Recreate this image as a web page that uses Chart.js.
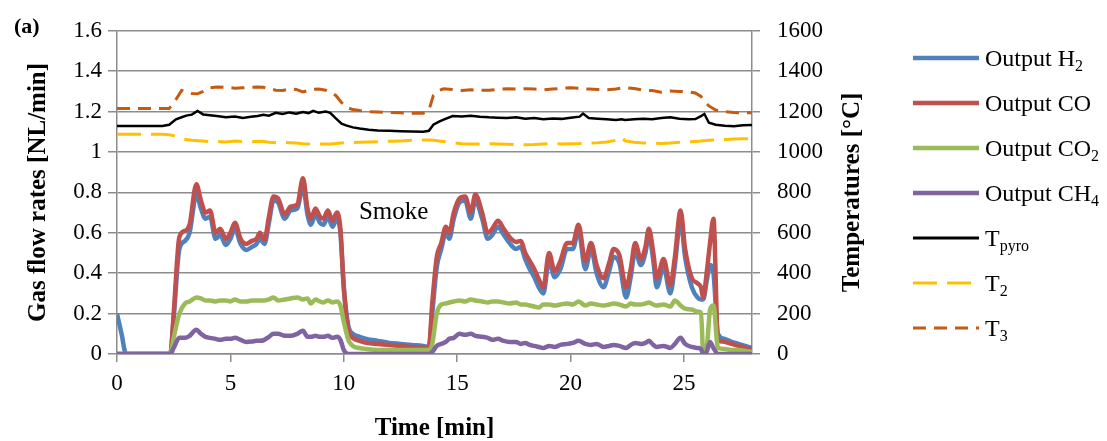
<!DOCTYPE html>
<html lang="en">
<head>
<meta charset="UTF-8">
<title>Gas flow rates and temperatures</title>
<style>
  body { margin: 0; background: #fff; }
  #wrap { width: 1107px; height: 441px; }
</style>
</head>
<body>
<div id="wrap"><canvas id="myChart" width="1107" height="441"></canvas></div>

<script src="https://cdn.jsdelivr.net/npm/chart.js"></script>
<script>
// time [min] for the gas flow curves
const tGas = [0, 0.2, 0.4, 1.0, 2.0, 2.35, 2.5, 2.75, 3.0, 3.2,
  3.5, 3.7, 3.9, 4.1, 4.35, 4.55, 4.8, 5.0, 5.2, 5.45,
  5.7, 5.95, 6.15, 6.3, 6.5, 6.7, 6.9, 7.1, 7.4, 7.65,
  7.95, 8.2, 8.4, 8.55, 8.75, 8.95, 9.1, 9.3, 9.5, 9.7,
  9.85, 10.0, 10.2, 10.4, 10.7, 11.0, 11.5, 12.0, 12.5, 13.0,
  13.5, 13.75, 13.9, 14.1, 14.3, 14.5, 14.65, 14.85, 15.1, 15.35,
  15.6, 15.8, 16.1, 16.35, 16.55, 16.8, 17.05, 17.3, 17.6, 17.8,
  18.0, 18.2, 18.4, 18.6, 18.8, 19.05, 19.3, 19.55, 19.85, 20.1,
  20.35, 20.65, 20.9, 21.15, 21.45, 21.7, 21.9, 22.15, 22.45, 22.65,
  22.85, 23.1, 23.3, 23.45, 23.65, 23.8, 24.1, 24.4, 24.6, 24.85,
  25.05, 25.35, 25.6, 25.75, 25.85, 26.0, 26.15, 26.3, 26.5, 26.8,
  27.1, 27.4, 27.7, 28.0];

// gas flow rates [NL/min]
const h2 = [0.2, 0.1, 0, 0, 0, 0, 0.18, 0.52, 0.56, 0.60,
  0.79, 0.72, 0.67, 0.68, 0.57, 0.59, 0.54, 0.57, 0.62, 0.545,
  0.515, 0.53, 0.545, 0.57, 0.545, 0.65, 0.76, 0.75, 0.67, 0.71,
  0.72, 0.83, 0.69, 0.64, 0.69, 0.65, 0.64, 0.68, 0.63, 0.67,
  0.60, 0.33, 0.14, 0.10, 0.085, 0.075, 0.065, 0.055, 0.05, 0.045,
  0.04, 0.035, 0.2, 0.43, 0.52, 0.60, 0.57, 0.67, 0.75, 0.76,
  0.67, 0.76, 0.67, 0.57, 0.59, 0.63, 0.59, 0.55, 0.52, 0.53,
  0.47, 0.42, 0.38, 0.33, 0.30, 0.46, 0.38, 0.42, 0.52, 0.52,
  0.61, 0.42, 0.52, 0.40, 0.33, 0.41, 0.48, 0.45, 0.28, 0.38,
  0.51, 0.44, 0.50, 0.59, 0.46, 0.33, 0.43, 0.30, 0.44, 0.66,
  0.48, 0.33, 0.28, 0.27, 0.27, 0.36, 0.44, 0.40, 0.10, 0.075,
  0.06, 0.05, 0.04, 0.03];

const co = [0, 0, 0, 0, 0, 0, 0.2, 0.58, 0.61, 0.64,
  0.84, 0.76, 0.70, 0.71, 0.60, 0.62, 0.57, 0.60, 0.65, 0.57,
  0.545, 0.56, 0.57, 0.60, 0.565, 0.68, 0.78, 0.77, 0.69, 0.73,
  0.74, 0.87, 0.72, 0.67, 0.72, 0.68, 0.67, 0.71, 0.66, 0.70,
  0.62, 0.33, 0.12, 0.08, 0.065, 0.055, 0.05, 0.045, 0.04, 0.035,
  0.03, 0.03, 0.25, 0.48, 0.55, 0.63, 0.60, 0.70, 0.77, 0.78,
  0.70, 0.79, 0.70, 0.60, 0.62, 0.66, 0.62, 0.58, 0.555, 0.56,
  0.50, 0.46, 0.42, 0.37, 0.33, 0.50, 0.41, 0.46, 0.55, 0.55,
  0.64, 0.46, 0.55, 0.44, 0.375, 0.45, 0.52, 0.49, 0.33, 0.42,
  0.55, 0.47, 0.53, 0.62, 0.50, 0.375, 0.47, 0.34, 0.48, 0.71,
  0.52, 0.375, 0.35, 0.33, 0.28, 0.40, 0.55, 0.67, 0.07, 0.06,
  0.05, 0.04, 0.03, 0.02];

const co2 = [0, 0, 0, 0, 0, 0, 0.08, 0.20, 0.25, 0.26,
  0.28, 0.275, 0.265, 0.265, 0.26, 0.265, 0.265, 0.26, 0.27, 0.26,
  0.26, 0.265, 0.265, 0.265, 0.265, 0.27, 0.28, 0.265, 0.27, 0.275,
  0.28, 0.27, 0.275, 0.25, 0.27, 0.26, 0.255, 0.265, 0.255, 0.26,
  0.24, 0.16, 0.07, 0.04, 0.03, 0.025, 0.02, 0.02, 0.02, 0.02,
  0.02, 0.02, 0.05, 0.20, 0.245, 0.25, 0.255, 0.26, 0.265, 0.26,
  0.27, 0.265, 0.26, 0.255, 0.26, 0.26, 0.255, 0.25, 0.255, 0.245,
  0.245, 0.24, 0.235, 0.23, 0.245, 0.245, 0.24, 0.245, 0.25, 0.245,
  0.26, 0.24, 0.25, 0.245, 0.24, 0.245, 0.25, 0.245, 0.235, 0.25,
  0.245, 0.245, 0.25, 0.255, 0.245, 0.24, 0.245, 0.235, 0.265, 0.24,
  0.225, 0.22, 0.21, 0.205, 0.01, 0.03, 0.22, 0.24, 0.03, 0.025,
  0.02, 0.02, 0.015, 0.01];

const ch4 = [0, 0, 0, 0, 0, 0, 0.03, 0.08, 0.08, 0.09,
  0.12, 0.10, 0.085, 0.08, 0.075, 0.07, 0.075, 0.075, 0.08, 0.07,
  0.06, 0.062, 0.065, 0.065, 0.07, 0.085, 0.10, 0.10, 0.09, 0.09,
  0.10, 0.115, 0.085, 0.085, 0.09, 0.085, 0.085, 0.09, 0.08, 0.085,
  0.07, 0.02, 0, 0, 0, 0, 0, 0, 0, 0,
  0, 0, 0.01, 0.04, 0.05, 0.06, 0.075, 0.08, 0.10, 0.095,
  0.10, 0.09, 0.085, 0.08, 0.07, 0.075, 0.065, 0.06, 0.06, 0.05,
  0.055, 0.045, 0.04, 0.035, 0.03, 0.04, 0.035, 0.045, 0.05, 0.055,
  0.065, 0.05, 0.045, 0.05, 0.035, 0.04, 0.045, 0.04, 0.03, 0.045,
  0.055, 0.05, 0.055, 0.065, 0.045, 0.035, 0.04, 0.03, 0.05, 0.08,
  0.05, 0.035, 0.03, 0.025, 0, 0.01, 0.06, 0.03, 0, 0,
  0, 0, 0, 0];

// time [min] for the temperature curves
const tTemp = [0, 1.0, 2.0, 2.3, 2.6, 2.85, 3.05, 3.3, 3.55, 3.8,
  4.1, 4.4, 4.8, 5.2, 5.55, 5.9, 6.2, 6.45, 6.7, 7.0,
  7.3, 7.6, 7.9, 8.2, 8.45, 8.65, 8.9, 9.2, 9.4, 9.65,
  9.9, 10.1, 10.4, 10.7, 11.1, 11.5, 12.0, 12.5, 13.0, 13.5,
  13.75, 13.95, 14.2, 14.4, 14.8, 15.2, 15.6, 16.0, 16.4, 16.8,
  17.2, 17.6, 18.0, 18.4, 18.8, 19.2, 19.6, 20.0, 20.4, 20.55,
  20.8, 21.2, 21.6, 22.0, 22.25, 22.4, 22.8, 23.2, 23.6, 24.0,
  24.4, 24.8, 25.2, 25.5, 25.75, 25.9, 26.1, 26.4, 26.8, 27.2,
  27.6, 28.0];

// temperatures [°C]
const tPyro = [1129, 1129, 1129, 1135, 1162, 1172, 1180, 1185, 1203, 1186,
  1182, 1178, 1172, 1176, 1168, 1174, 1178, 1184, 1180, 1194,
  1188, 1196, 1190, 1198, 1192, 1204, 1194, 1200, 1194, 1166,
  1140, 1132, 1122, 1116, 1110, 1107, 1105, 1103, 1101, 1100,
  1105, 1135, 1150, 1160, 1178, 1176, 1180, 1175, 1172, 1170,
  1168, 1172, 1165, 1168, 1162, 1166, 1164, 1170, 1175, 1190,
  1168, 1165, 1162, 1158, 1162, 1158, 1162, 1165, 1162, 1168,
  1172, 1165, 1162, 1163, 1178, 1188, 1145, 1135, 1130, 1128,
  1132, 1134];

const temp2 = [1088, 1088, 1088, 1086, 1078, 1068, 1062, 1058, 1056, 1054,
  1052, 1053, 1050, 1054, 1052, 1050, 1053, 1052, 1048, 1046,
  1048, 1046, 1044, 1041, 1040, 1040, 1040, 1039, 1040, 1042,
  1045, 1046, 1047, 1048, 1050, 1051, 1053, 1055, 1058, 1060,
  1060, 1058, 1055, 1052, 1046, 1041, 1040, 1040, 1041, 1040,
  1038, 1036, 1036, 1037, 1040, 1041, 1040, 1041, 1042, 1043,
  1044, 1046, 1050, 1058, 1076, 1055, 1048, 1045, 1044, 1042,
  1044, 1048, 1050, 1052, 1054, 1056, 1058, 1060, 1062, 1064,
  1065, 1065];

const temp3 = [1215, 1215, 1215, 1215, 1260, 1305, 1300, 1290, 1288, 1300,
  1318, 1322, 1320, 1316, 1318, 1320, 1322, 1320, 1314, 1306,
  1305, 1312, 1310, 1297, 1305, 1310, 1312, 1306, 1295, 1280,
  1245, 1222, 1210, 1205, 1200, 1198, 1196, 1194, 1192, 1192,
  1205, 1280, 1305, 1313, 1310, 1305, 1308, 1305, 1306, 1310,
  1313, 1312, 1313, 1312, 1308, 1312, 1315, 1318, 1315, 1313,
  1312, 1310, 1308, 1312, 1316, 1318, 1314, 1306, 1304, 1296,
  1302, 1300, 1298, 1292, 1275, 1252, 1228, 1208, 1200, 1195,
  1194, 1194];

const pts = (xs, ys) => xs.map((x, i) => ({ x: x, y: ys[i] }));
const GRID = '#8c8c8c';

Chart.defaults.font.family = "'Liberation Serif', 'Times New Roman', serif";
Chart.defaults.font.size = 23;
Chart.defaults.color = '#000';

const gasLine = (label, sub, xs, ys, color, order) => ({
  label: label + sub, base: label, sub: sub,
  data: pts(xs, ys), yAxisID: 'y', borderColor: color, backgroundColor: color,
  borderWidth: 4.5, pointRadius: 0, cubicInterpolationMode: 'monotone', order: order
});
const tempLine = (label, sub, ys, color, dash, width, order) => ({
  label: label + sub, base: label, sub: sub,
  data: pts(tTemp, ys), yAxisID: 'y2', borderColor: color, backgroundColor: color,
  borderWidth: width, borderDash: dash, pointRadius: 0, tension: 0, order: order
});

// legend with subscripts, right axis title (bottom-to-top), "(a)" and "Smoke"
const extras = {
  id: 'extras',
  afterDraw(chart) {
    const ctx = chart.ctx;
    const fam = Chart.defaults.font.family;
    const area = chart.chartArea;
    ctx.save();
    chart.data.datasets.forEach((ds, i) => {
      const y = 58 + i * 45;
      ctx.strokeStyle = ds.borderColor;
      ctx.lineWidth = ds.yAxisID === 'y' ? 4.5 : 3;
      ctx.setLineDash(ds.borderDash || []);
      ctx.beginPath();
      ctx.moveTo(913, y);
      ctx.lineTo(979, y);
      ctx.stroke();
      ctx.setLineDash([]);
      ctx.fillStyle = '#000';
      ctx.textAlign = 'left';
      ctx.textBaseline = 'alphabetic';
      ctx.font = '24px ' + fam;
      ctx.fillText(ds.base, 985, y + 8);
      const w = ctx.measureText(ds.base).width;
      ctx.font = '16px ' + fam;
      ctx.fillText(ds.sub, 985 + w, y + 13);
    });
    ctx.fillStyle = '#000';
    ctx.textBaseline = 'middle';
    ctx.font = 'bold 22px ' + fam;
    ctx.fillText('(a)', 14, 27);
    ctx.textAlign = 'center';
    ctx.font = '25px ' + fam;
    ctx.fillText('Smoke', chart.scales.x.getPixelForValue(12.2), chart.scales.y.getPixelForValue(0.70));
    ctx.translate(853, (area.top + area.bottom) / 2);
    ctx.rotate(-Math.PI / 2);
    ctx.font = 'bold 25px ' + fam;
    ctx.fillText('Temperatures [°C]', 0, 0);
    ctx.restore();
  }
};

const config = {
  type: 'line',
  data: {
    datasets: [
      gasLine('Output H', '2', tGas, h2, '#4F81BD', 7),
      gasLine('Output CO', '', tGas, co, '#C0504D', 6),
      gasLine('Output CO', '2', tGas, co2, '#9BBB59', 5),
      gasLine('Output CH', '4', tGas, ch4, '#8064A2', 4),
      tempLine('T', 'pyro', tPyro, '#000000', [], 2.5, 3),
      tempLine('T', '2', temp2, '#FFC000', [24, 10], 3, 2),
      tempLine('T', '3', temp3, '#C55A11', [13, 8], 3, 1)
    ]
  },
  options: {
    responsive: false,
    animation: false,
    layout: { padding: { left: 20, right: 235, top: 14, bottom: 0 } },
    plugins: { legend: { display: false }, tooltip: { enabled: false } },
    scales: {
      x: {
        type: 'linear', min: 0, max: 28,
        ticks: { stepSize: 5, includeBounds: false, padding: 8 },
        grid: { drawOnChartArea: false, color: GRID, lineWidth: 1.5, tickLength: 8 },
        border: { color: GRID, width: 1.5 },
        title: { display: true, text: 'Time [min]', font: { size: 25, weight: 'bold', lineHeight: 1 }, padding: 0 },
        afterFit: (s) => { s.height = 87; }
      },
      y: {
        position: 'left', min: 0, max: 1.6,
        ticks: { stepSize: 0.2, padding: 6, callback: (v) => String(+v.toFixed(1)) },
        grid: { color: GRID, lineWidth: 1.5, tickLength: 9 },
        border: { color: GRID, width: 1.5 },
        title: { display: true, text: 'Gas flow rates [NL/min]', font: { size: 25, weight: 'bold' } },
        afterFit: (s) => { s.width = 97; }
      },
      y2: {
        position: 'right', min: 0, max: 1600,
        ticks: { stepSize: 200, padding: 17, callback: (v) => String(v) },
        grid: { drawOnChartArea: false, color: GRID, lineWidth: 1.5, tickLength: 8 },
        border: { color: GRID, width: 1.5 },
        afterFit: (s) => { s.width = 120; }
      }
    }
  },
  plugins: [extras]
};

const myChart = new Chart(document.getElementById('myChart'), config);
</script>
</body>
</html>
